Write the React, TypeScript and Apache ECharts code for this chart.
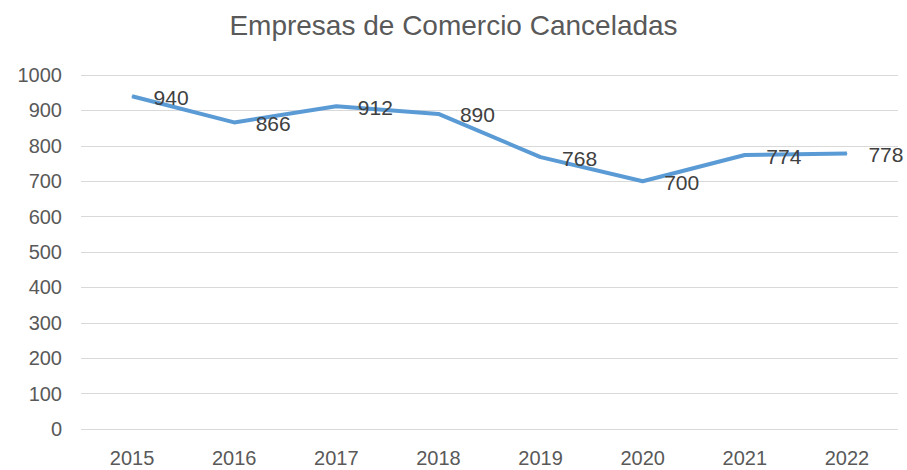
import React, { useEffect, useRef } from "react";
import * as echarts from "echarts";

const years = ["2015", "2016", "2017", "2018", "2019", "2020", "2021", "2022"];
const canceladas = [940, 866, 912, 890, 768, 700, 774, 778];
const titleText = "Empresas de Comercio Canceladas";

export default function App() {
  const ref = useRef<HTMLDivElement>(null);
  useEffect(() => {
    if (!ref.current) return;
    const chart = echarts.init(ref.current, null, { renderer: "svg" });
    chart.setOption({
      animation: false,
      backgroundColor: "#ffffff",
      title: {
        text: titleText,
        left: "center",
        top: 6,
        textStyle: {
          fontFamily: "Liberation Sans",
          fontSize: 28,
          fontWeight: "normal",
          color: "#595959",
        },
      },
      grid: { left: 81, right: 9, top: 75, bottom: 41 },
      xAxis: {
        type: "category",
        data: years,
        boundaryGap: true,
        axisLine: { show: false },
        axisTick: { show: false },
        axisLabel: {
          margin: 19,
          fontFamily: "Liberation Sans",
          fontSize: 20,
          color: "#595959",
        },
      },
      yAxis: {
        type: "value",
        min: 0,
        max: 1000,
        interval: 100,
        axisLine: { show: false },
        axisTick: { show: false },
        splitLine: { lineStyle: { color: "#d9d9d9", width: 1 } },
        axisLabel: {
          margin: 19,
          fontFamily: "Liberation Sans",
          fontSize: 20,
          color: "#595959",
          formatter: (v: number) => String(v),
        },
      },
      series: [
        {
          type: "line",
          data: canceladas,
          showSymbol: true,
          symbol: "circle",
          symbolSize: 1,
          itemStyle: { color: "#5B9BD5" },
          lineStyle: { color: "#5B9BD5", width: 4 },
          label: {
            show: true,
            position: "right",
            distance: 21,
            offset: [0, 1],
            fontFamily: "Liberation Sans",
            fontSize: 21,
            color: "#404040",
          },
        },
      ],
    });
    return () => chart.dispose();
  }, []);
  return (
    <div
      ref={ref}
      style={{ position: "fixed", left: 0, top: 0, width: 907, height: 470 }}
    />
  );
}
